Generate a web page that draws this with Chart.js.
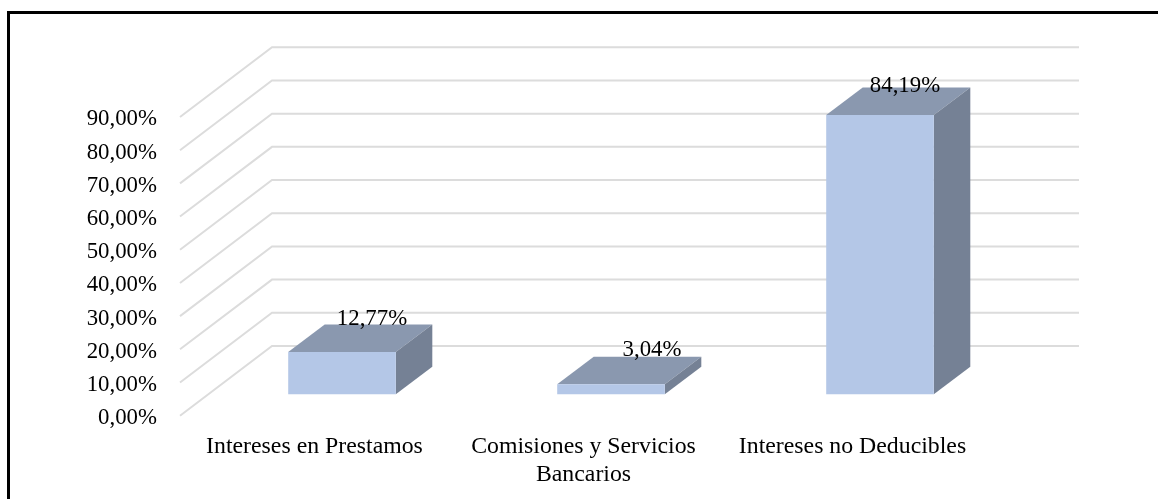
<!DOCTYPE html>
<html>
<head>
<meta charset="utf-8">
<title>Gastos financieros</title>
<script src="https://cdn.jsdelivr.net/npm/chart.js@4/dist/chart.umd.min.js"></script>
<style>
    html, body { margin: 0; padding: 0; background: #fff; overflow: hidden; }
    /* the original only has a top and a left border */
    #frame { position: absolute; left: 7px; top: 11px; right: 0; bottom: 0; border-top: 3px solid #000; border-left: 3px solid #000; }
    #wrap { position: absolute; left: 0; top: 0; width: 1158px; height: 499px; }
</style>
</head>
<body>
<div id="frame"></div>
<div id="wrap"><canvas id="myChart" width="1158" height="499"></canvas></div>
<script>
const categories = ["Intereses en Prestamos", ["Comisiones y Servicios", "Bancarios"], "Intereses no Deducibles"];
const porcentajes = [12.77, 3.04, 84.19];
const tickMax = 90;
const tickStep = 10;

const serif = "'Liberation Serif', 'Times New Roman', serif";
const fontSize = 22.8;
const categoryFontSize = 23.8;

// fake 3D: wall depth and how far the bars sit from the front of the floor
const wall = {dx: 92, dy: 69.7};
const barShift = {dx: 27.5, dy: 21.4};
const barDepth = {dx: 36.5, dy: 27.5};
// labels sit a bit differently on every bar in the original
const labelNudge = [[30, -33], [41, -34], [25, -29]];

function formatPct(v){
    return v.toFixed(2).replace('.', ',') + '%';
}

function poly(ctx, pts, color){
    ctx.fillStyle = color;
    ctx.beginPath();
    pts.forEach((p, i) => i ? ctx.lineTo(p[0], p[1]) : ctx.moveTo(p[0], p[1]));
    ctx.closePath();
    ctx.fill();
}

const fake3d = {
    id: 'fake3d',
    // gridlines go up the side wall and then along the back wall
    beforeDatasetsDraw(chart){
        const {ctx, chartArea, scales} = chart;
        ctx.save();
        ctx.strokeStyle = '#dcdcdc';
        ctx.lineWidth = 2;
        scales.y.ticks.forEach(t => {
            const y = scales.y.getPixelForValue(t.value);
            ctx.beginPath();
            ctx.moveTo(chartArea.left, y);
            ctx.lineTo(chartArea.left + wall.dx, y - wall.dy);
            ctx.lineTo(chartArea.right + wall.dx, y - wall.dy);
            ctx.stroke();
        });
        ctx.restore();
    },
    // the library draws the front face, shifted back; top and side are added here
    beforeDatasetDraw(chart, args){
        const {ctx} = chart;
        const meta = chart.getDatasetMeta(args.index);
        ctx.save();
        ctx.translate(barShift.dx, -barShift.dy);
        meta.data.forEach(bar => {
            const l = bar.x - bar.width / 2, r = bar.x + bar.width / 2;
            const d = barDepth;
            poly(ctx, [[l, bar.y], [r, bar.y], [r + d.dx, bar.y - d.dy], [l + d.dx, bar.y - d.dy]], '#8a98af');
            poly(ctx, [[r, bar.y], [r + d.dx, bar.y - d.dy], [r + d.dx, bar.base - d.dy], [r, bar.base]], '#758195');
        });
    },
    afterDatasetDraw(chart){
        chart.ctx.restore();
    },
    afterDatasetsDraw(chart){
        const {ctx} = chart;
        const meta = chart.getDatasetMeta(0);
        ctx.save();
        ctx.fillStyle = '#000';
        ctx.font = fontSize + 'px ' + serif;
        ctx.textAlign = 'center';
        ctx.textBaseline = 'middle';
        meta.data.forEach((bar, i) => {
            ctx.fillText(formatPct(porcentajes[i]), bar.x + barShift.dx + labelNudge[i][0], bar.y - barShift.dy + labelNudge[i][1]);
        });
        ctx.restore();
    }
};

new Chart("myChart", {
    type: "bar",
    data: {
        labels: categories,
        datasets: [{
            label: 'Porcentaje',
            data: porcentajes,
            backgroundColor: '#b4c7e7',
            borderWidth: 0,
            categoryPercentage: 1,
            barPercentage: 0.4,
            clip: false
        }]
    },
    options: {
        responsive: false,
        animation: false,
        layout: {padding: {left: 80, right: 171, top: 117, bottom: 0}},
        plugins: {legend: {display: false}, title: {display: false}, tooltip: {enabled: false}},
        scales: {
            x: {
                grid: {display: false, drawTicks: false},
                border: {display: false},
                ticks: {
                    color: '#000',
                    font: {family: serif, size: categoryFontSize, lineHeight: 1.164},
                    padding: 17,
                    maxRotation: 0,
                    autoSkip: false
                },
                afterFit(scale){ scale.height = 83.3; }
            },
            y: {
                min: 0,
                max: tickMax,
                grid: {display: false, drawTicks: false},
                border: {display: false},
                ticks: {
                    stepSize: tickStep,
                    color: '#000',
                    font: {family: serif, size: fontSize},
                    padding: 23,
                    labelOffset: 2.5,
                    callback: v => formatPct(v)
                },
                afterFit(scale){ scale.width = 100; }
            }
        }
    },
    plugins: [fake3d]
});
</script>
</body>
</html>
